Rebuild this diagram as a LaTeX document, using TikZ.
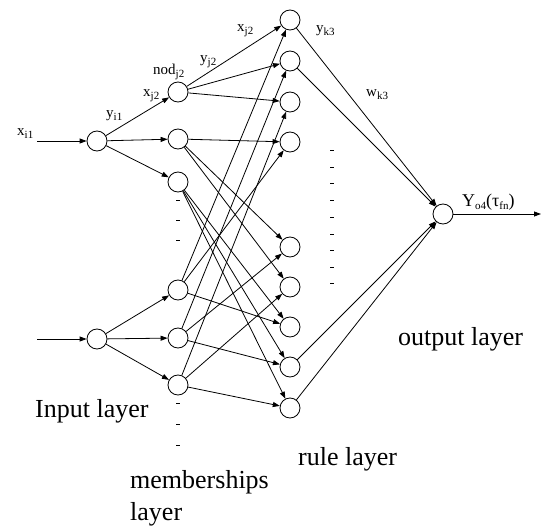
\documentclass[tikz,border=0pt]{standalone}
\usepackage{fontspec}
\setmainfont{Liberation Serif}
\usetikzlibrary{arrows.meta}
\newcommand\subl[2]{#1\raisebox{-0.35ex}{\fontsize{11}{11}\selectfont #2}}
\begin{document}
\begin{tikzpicture}[x=1pt,y=-1pt,
  neuron/.style={circle,draw,line width=0.8pt,minimum size=20pt,inner sep=0pt},
  conn/.style={line width=0.8pt,-{Triangle[length=7pt,width=5pt]}},
  plain/.style={line width=0.8pt},
  small/.style={font=\fontsize{15}{15}\selectfont,inner sep=0pt,anchor=base west},
  big/.style={font=\fontsize{26}{32}\selectfont,inner sep=0pt,anchor=base west},
  dashmark/.style={line width=0.9pt}]
\useasboundingbox[fill=white] (0,0) rectangle (542,527);
% input layer
\node[neuron] (I1) at (97,141) {};
\node[neuron] (I2) at (97,339) {};
% membership layer
\node[neuron] (M1) at (178,92) {};
\node[neuron] (M2) at (178,139) {};
\node[neuron] (M3) at (178,182) {};
\node[neuron] (M4) at (178,290) {};
\node[neuron] (M5) at (178,338) {};
\node[neuron] (M6) at (178,385) {};
% rule layer
\node[neuron] (R1) at (290,20) {};
\node[neuron] (R2) at (290,61) {};
\node[neuron] (R3) at (290,102) {};
\node[neuron] (R4) at (290,142) {};
\node[neuron] (R5) at (290,247) {};
\node[neuron] (R6) at (290,287) {};
\node[neuron] (R7) at (290,327) {};
\node[neuron] (R8) at (290,367) {};
\node[neuron] (R9) at (290,408) {};
% output
\node[neuron] (O) at (443,214) {};
\coordinate (in1) at (37,141);
\coordinate (in2) at (37,339);
\coordinate (out) at (541,214);
% inputs
\draw[conn] (in1) -- (I1);
\draw[conn] (in2) -- (I2);
\foreach \m in {M1,M2,M3} \draw[conn] (I1) -- (\m);
\foreach \m in {M4,M5,M6} \draw[conn] (I2) -- (\m);
% membership -> rules
\foreach \r in {R1,R2,R3} \draw[conn] (M1) -- (\r);
\foreach \r in {R4,R5,R6} \draw[conn] (M2) -- (\r);
\foreach \r in {R7,R8,R9} \draw[conn] (M3) -- (\r);
\foreach \r in {R1,R4,R7} \draw[conn] (M4) -- (\r);
\foreach \r in {R2,R5,R8} \draw[conn] (M5) -- (\r);
\foreach \r in {R3,R6,R9} \draw[conn] (M6) -- (\r);
% rules -> output
\foreach \r in {R1,R2,R8,R9} \draw[conn] (\r) -- (O);
\draw[conn] (O) -- (out);
% dashes
\foreach \y in {200,220,240,403,424,445} \draw[dashmark] (176,\y) -- (180,\y);
\foreach \y in {150,167,183,200,217,234,250,267,283} \draw[dashmark] (330,\y) -- (334,\y);
% small labels
\node[small] (lxi1) at (17,136) {\subl{x}{i1}};
\node[small] (lyi1) at (106,118) {\subl{y}{i1}};
\node[small] (lxj2a) at (143,97) {\subl{x}{j2}};
\node[small] (lnod) at (153,75) {\subl{nod}{j2}};
\node[small] (lyj2) at (200,63) {\subl{y}{j2}};
\node[small] (lxj2b) at (237,32) {\subl{x}{j2}};
\node[small] (lyk3) at (316,33) {\subl{y}{k3}};
\node[small] (lwk3) at (366,97) {\subl{w}{k3}};
\node[small,font=\fontsize{18}{18}\selectfont] (lY) at (462,207) {\subl{Y}{o4}(\subl{τ}{fn})};
% layer labels
\node[big] (tin) at (35,417) {Input layer};
\node[big] (tout) at (398,345) {output layer};
\node[big] (trule) at (298,465) {rule layer};
\node[big,anchor=north west,align=left] (tmem) at (130,470) {memberships\\layer};
\end{tikzpicture}
\end{document}
